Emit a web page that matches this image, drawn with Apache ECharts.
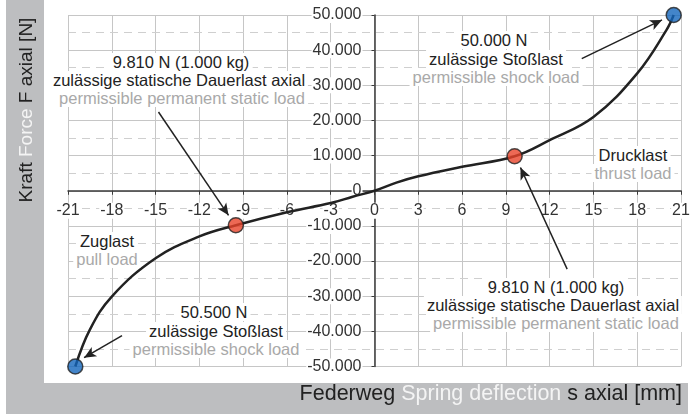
<!DOCTYPE html>
<html>
<head>
<meta charset="utf-8">
<script src="https://cdn.jsdelivr.net/npm/echarts@6/dist/echarts.min.js"></script>
<style>
  html, body { margin: 0; padding: 0; background: #fff; }
  #wrap { position: relative; width: 699px; height: 416px; overflow: hidden;
          font-family: 'Liberation Sans', Arial, sans-serif; }
  .band { position: absolute; background: #bdbec0; z-index: 0; }
  #chart { position: absolute; left: 0; top: 0; width: 699px; height: 416px; z-index: 1; }
  .ttl { position: absolute; z-index: 2; color: #222; white-space: nowrap; }
  .ttl .w { color: #f4f4f4; }
  #ytitle { left: -124px; top: 98px; width: 300px; height: 24px; line-height: 24px;
            text-align: center; font-size: 19px; transform: rotate(-90deg); }
  #xtitle { right: 17px; top: 380px; height: 26px; line-height: 26px; font-size: 21.5px; }
  .note { position: absolute; z-index: 2; transform: translate(-50%, -50%);
          background: #fff; padding: 0 3px; font-size: 16.5px; line-height: 18px;
          white-space: nowrap; color: #222; }
  .note.g { color: #a9a9a9; }
</style>
</head>
<body>
<div id="wrap">
  <div class="band" style="left:6px;top:0;width:38px;height:414px"></div>
  <div class="band" style="left:6px;top:383px;width:682px;height:31px"></div>
  <div id="chart"></div>
  <div id="ytitle" class="ttl">Kraft <span class="w">Force</span> F axial [N]</div>
  <div id="xtitle" class="ttl">Federweg <span class="w">Spring deflection</span> s axial [mm]</div>
</div>
<script>
// spring curve
const deflection = [-20.5, -19.5, -18, -15, -12, -9.5, -6, -3, -1.5, 0, 1.5, 3, 6, 9.6, 12, 15, 18, 20, 20.5];
const force = [-50000, -39500, -30100, -19200, -13000, -9810, -6100, -3500, -1700, 0, 2300, 4100, 6800, 9810, 14400, 21000, 33400, 45700, 50000];

// marked points: shock loads (blue) and static loads (red)
const markX = [-20.5, -9.5, 9.6, 20.5];
const markY = [-50000, -9810, 9810, 50000];
const markKind = ["shock", "static", "static", "shock"];

// arrows: [tail, head] in data units
const arrows = [
    [[-14.8, 22400], [-10.0, -7000]],
    [[14.2, 37600], [19.7, 48600]],
    [[-17.3, -41200], [-19.9, -47500]],
    [[13.2, -22300], [10.0, 6600]]
];

// grid: solid lines at the ticks, dashed half steps on the force axis
const xGrid = [-21, -18, -15, -12, -9, -6, -3, 0, 3, 6, 9, 12, 15, 18, 21];
const yGrid = [-50000, -40000, -30000, -20000, -10000, 0, 10000, 20000, 30000, 40000, 50000];
const yGridMinor = [-45000, -35000, -25000, -15000, -5000, 5000, 15000, 25000, 35000, 45000];

// annotation lines, grey = english translation
const noteText = [
    "9.810 N (1.000 kg)", "zulässige statische Dauerlast axial", "permissible permanent static load",
    "50.000 N", "zulässige Stoßlast", "permissible shock load",
    "Drucklast", "thrust load",
    "Zuglast", "pull load",
    "50.500 N", "zulässige Stoßlast", "permissible shock load",
    "9.810 N (1.000 kg)", "zulässige statische Dauerlast axial", "permissible permanent static load"
];
const noteGrey = [0, 0, 1, 0, 0, 1, 0, 1, 0, 1, 0, 0, 1, 0, 0, 1];

const xTicks = { min: -21, max: 21, step: 3 };
const yTicks = { min: -50000, max: 50000, step: 10000 };

const FONT = "'Liberation Sans', Arial, sans-serif";
const GRID = "#c6c6c6";
const DARK = "#222";

const W = 699, H = 416;
const G = { left: 68, right: 18, top: 15, bottom: 49.5 };
const plotW = W - G.left - G.right;
const plotH = H - G.top - G.bottom;

// pixel centres of the annotation lines
const notePos = [
    [181, 62], [179, 80], [182, 98],
    [494, 40], [496, 59], [496, 77],
    [633, 155], [633, 173],
    [107, 241], [107, 259],
    [214, 312], [216, 331], [216, 349],
    [556, 287], [553, 305], [556, 323]
];

const wrap = document.getElementById("wrap");
noteText.forEach((t, i) => {
    const d = document.createElement("div");
    d.className = "note" + (noteGrey[i] ? " g" : "");
    d.textContent = t;
    d.style.left = notePos[i][0] + "px";
    d.style.top = notePos[i][1] + "px";
    wrap.appendChild(d);
});

function fmt(v) {
    const s = Math.abs(v).toString().replace(/\B(?=(\d{3})+(?!\d))/g, ".");
    return (v < 0 ? "-" : "") + s;
}

const solid = { color: GRID, width: 1, type: "solid" };
const dashed = { color: "#cfcfcf", width: 1, type: [8, 6] };
const gridLines = []
    .concat(xGrid.map(v => ({ xAxis: v, lineStyle: solid })))
    .concat(yGrid.map(v => ({ yAxis: v, lineStyle: solid })))
    .concat(yGridMinor.map(v => ({ yAxis: v, lineStyle: dashed })));

const chart = echarts.init(document.getElementById("chart"));
chart.setOption({
    animation: false,
    backgroundColor: "transparent",
    textStyle: { fontFamily: FONT },
    grid: G,
    xAxis: {
        type: "value", position: "bottom",
        offset: -plotH / 2,
        min: xTicks.min, max: xTicks.max, interval: xTicks.step,
        axisLine: { onZero: false, lineStyle: { color: "#3a3a3a", width: 1.5 } },
        axisTick: { show: true, length: 4 },
        axisLabel: {
            color: "#333", fontSize: 16, margin: 12,
            backgroundColor: "#fff", padding: [0, 1],
            showMinLabel: true, showMaxLabel: true
        },
        splitLine: { show: false }
    },
    yAxis: {
        type: "value", position: "left",
        offset: -plotW / 2,
        min: yTicks.min, max: yTicks.max, interval: yTicks.step,
        axisLine: { show: true, onZero: false, lineStyle: { color: "#3a3a3a", width: 1.5 } },
        axisTick: { show: true, length: 3 },
        axisLabel: {
            color: "#333", fontSize: 16, margin: 12,
            backgroundColor: "#fff", padding: [0, 1],
            formatter: fmt
        },
        splitLine: { show: false }
    },
    series: [
        {
            // carries the grid lines only
            type: "line",
            data: deflection.map((x, i) => [x, force[i]]),
            showSymbol: false,
            silent: true,
            lineStyle: { opacity: 0 },
            z: -1,
            markLine: {
                silent: true,
                z: -1,
                symbol: ["none", "none"],
                label: { show: false },
                data: gridLines
            }
        },
        {
            type: "line",
            data: deflection.map((x, i) => [x, force[i]]),
            smooth: 0.4,
            showSymbol: false,
            lineStyle: { color: DARK, width: 2.5 },
            z: 3,
            markLine: {
                silent: true,
                symbol: ["none", "arrow"],
                symbolSize: [8, 12],
                label: { show: false },
                lineStyle: { color: DARK, width: 1.5, type: "solid" },
                data: arrows.map(a => [{ coord: a[0] }, { coord: a[1] }])
            }
        },
        {
            type: "scatter",
            data: markX.map((x, i) => ({
                value: [x, markY[i]],
                itemStyle: { color: markKind[i] === "shock" ? "#1467bd" : "#e8432b" }
            })),
            symbolSize: 15,
            itemStyle: { borderColor: DARK, borderWidth: 1.5 },
            z: 5
        }
    ]
});
</script>
</body>
</html>
